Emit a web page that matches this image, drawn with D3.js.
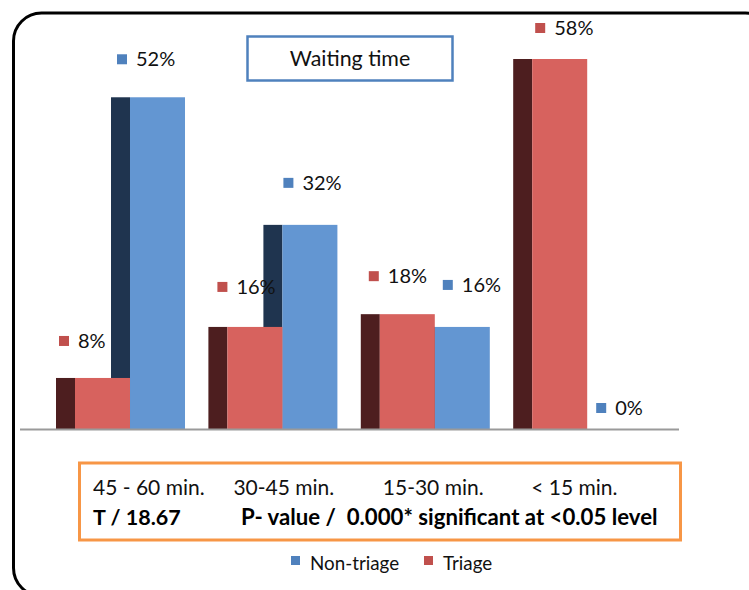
<!DOCTYPE html>
<html>
<head>
<meta charset="utf-8">
<script src="https://cdn.jsdelivr.net/npm/d3@7"></script>
<style>
  html, body { margin: 0; padding: 0; background: #fff; }
  svg { display: block; font-family: Lato, "Open Sans", sans-serif; }
</style>
</head>
<body>
<svg id="chart" width="749" height="590"></svg>
<script>
// ---- data ----
const categories = ["45 - 60 min.", "30-45 min.", "15-30 min.", "< 15 min."];
const seriesNames = ["Non-triage", "Triage"];
const nonTriage = [52, 32, 16, 0];
const triage = [8, 16, 18, 58];
const title = "Waiting time";
const statLeft = "T / 18.67";
const statRight = "P- value /  0.000* significant at <0.05 level";

// ---- layout (label nudges, as placed in the original) ----
const triageLabelDx = [3, 9, 8, 22];
const triageLabelDy = [-37, -40, -38, -31];
const nonLabelDx = [61, 75, 82, 83];
const nonLabelDy = [-38, -42, -42, -21];
const catLabelDx = [37, 25, 22, 18];

const colors = {
  nonFront: "#6396d2", nonSide: "#1f344f", nonKey: "#4f81bd",
  triFront: "#d7625e", triSide: "#4d1e1f", triKey: "#c0504d"
};

const svg = d3.select("#chart");

// frame
svg.append("rect")
  .attr("x", 13.5).attr("y", 13).attr("width", 760).attr("height", 583)
  .attr("rx", 28).attr("ry", 28)
  .attr("fill", "#fff").attr("stroke", "#000").attr("stroke-width", 3);

const baseY = 429;
const x = d3.scaleBand().domain(categories).range([56, 642.2])
  .paddingInner(0.1535).paddingOuter(0).align(0);
const y = d3.scaleLinear().domain([0, 58]).range([baseY, 59]);

const bw = x.bandwidth();
const depth = bw * 19 / 129;
const front = bw * 55 / 129;

// non-triage bars (behind, offset right)
const gNon = svg.append("g");
categories.forEach((c, i) => {
  const x0 = x(c) + front;
  const v = nonTriage[i];
  if (v <= 0) return;
  gNon.append("rect").attr("x", x0).attr("y", y(v)).attr("width", depth)
    .attr("height", baseY - y(v)).attr("fill", colors.nonSide);
  gNon.append("rect").attr("x", x0 + depth).attr("y", y(v)).attr("width", front)
    .attr("height", baseY - y(v)).attr("fill", colors.nonFront);
});
// triage bars (front)
const gTri = svg.append("g");
categories.forEach((c, i) => {
  const x0 = x(c);
  const v = triage[i];
  gTri.append("rect").attr("x", x0).attr("y", y(v)).attr("width", depth)
    .attr("height", baseY - y(v)).attr("fill", colors.triSide);
  gTri.append("rect").attr("x", x0 + depth).attr("y", y(v)).attr("width", front)
    .attr("height", baseY - y(v)).attr("fill", colors.triFront);
});

// baseline
svg.append("line").attr("x1", 20).attr("x2", 679).attr("y1", baseY + 0.5).attr("y2", baseY + 0.5)
  .attr("stroke", "#9a9a9a").attr("stroke-width", 2);

// data labels
function label(cx, cy, key, text) {
  svg.append("rect").attr("x", cx).attr("y", cy - 5).attr("width", 10).attr("height", 10).attr("fill", key);
  svg.append("text").attr("x", cx + 19).attr("y", cy + 7).attr("font-size", 20)
    .attr("fill", "#111").text(text);
}
categories.forEach((c, i) => {
  label(x(c) + triageLabelDx[i], y(triage[i]) + triageLabelDy[i], colors.triKey, triage[i] + "%");
  label(x(c) + nonLabelDx[i], y(nonTriage[i]) + nonLabelDy[i], colors.nonKey, nonTriage[i] + "%");
});

// title box
svg.append("rect").attr("x", 247.5).attr("y", 36.5).attr("width", 205).attr("height", 44)
  .attr("fill", "#fff").attr("stroke", "#4f81bd").attr("stroke-width", 2.5);
svg.append("text").attr("x", 350).attr("y", 66).attr("text-anchor", "middle")
  .attr("font-size", 21.4).attr("fill", "#111").text(title);

// bottom box with categories and stats
svg.append("rect").attr("x", 79.5).attr("y", 463).attr("width", 601).attr("height", 77)
  .attr("fill", "#fff").attr("stroke", "#f79646").attr("stroke-width", 3);
categories.forEach((c, i) => {
  svg.append("text").attr("x", x(c) + catLabelDx[i]).attr("y", 494.5)
    .attr("font-size", 21).attr("fill", "#111").text(c);
});
svg.append("text").attr("x", 93).attr("y", 524.5).attr("font-size", 21.5)
  .attr("font-weight", "bold").attr("fill", "#000").text(statLeft);
svg.append("text").attr("x", 241).attr("y", 524.5).attr("font-size", 22.2)
  .attr("font-weight", "bold").attr("fill", "#000").attr("xml:space", "preserve")
  .style("white-space", "pre").text(statRight);

// legend
const legendItems = [
  { name: seriesNames[0], color: colors.nonKey, x: 291 },
  { name: seriesNames[1], color: colors.triKey, x: 424 }
];
legendItems.forEach(d => {
  svg.append("rect").attr("x", d.x).attr("y", 556).attr("width", 9).attr("height", 9).attr("fill", d.color);
  svg.append("text").attr("x", d.x + 19).attr("y", 569.5).attr("font-size", 18.8)
    .attr("fill", "#111").text(d.name);
});
</script>
</body>
</html>
